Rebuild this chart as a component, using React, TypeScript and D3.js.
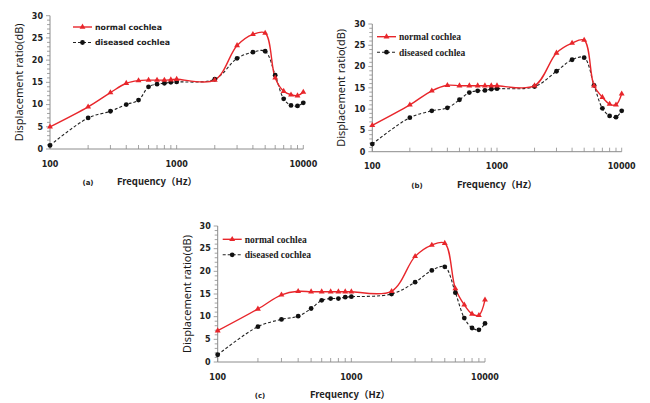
import React, { useEffect, useRef } from 'react';
import * as d3 from 'd3';

const freqs = [100, 200, 300, 400, 500, 600, 700, 800, 900, 1000, 2000, 3000, 4000, 5000, 6000, 7000, 8000, 9000, 10000];

const normalA = [5, 9.5, 12.7, 14.8, 15.4, 15.5, 15.5, 15.5, 15.6, 15.7, 15.5, 23.3, 25.8, 26.1, 16, 13, 12.2, 12, 12.8];
const diseasedA = [0.8, 7, 8.5, 10, 11, 14, 14.6, 14.8, 15, 15.1, 15.7, 20.4, 21.8, 22, 16.6, 11.3, 9.8, 9.7, 10.4];

const normalB = [6.2, 11, 14.3, 15.6, 15.5, 15.5, 15.5, 15.5, 15.5, 15.5, 15.5, 23.2, 25.5, 26.2, 15.5, 12.8, 11.2, 11, 13.6];
const diseasedB = [1.8, 8, 9.6, 10.3, 12.2, 13.9, 14.3, 14.4, 14.7, 14.8, 15.3, 18.9, 21.6, 22.1, 15.6, 10.2, 8.4, 8.1, 9.6];

const normalC = [6.9, 11.7, 14.8, 15.6, 15.5, 15.5, 15.5, 15.5, 15.5, 15.5, 15.6, 23.3, 25.8, 26.2, 16.2, 12.6, 10.6, 10.3, 13.7];
const diseasedC = [1.6, 7.8, 9.4, 10.1, 11.8, 13.6, 14, 14, 14.3, 14.4, 15, 17.6, 20.2, 21, 15.3, 9.7, 7.5, 7.1, 8.5];

const seriesNames = ['normal cochlea', 'diseased cochlea'];
const xTickLabels = [100, 1000, 10000];
const yTicks = [0, 5, 10, 15, 20, 25, 30];

const RED = '#e8262b';
const AXIS = '#8c8c8c';

type PanelProps = {
  normal: number[];
  diseased: number[];
  tag: string;
  x0: number; x1: number; yTop: number; yBot: number;
  tagX: number; freqX: number; legendX: number; legendY: number;
  legendSerif: boolean;
};

const Panel = (p: PanelProps) => {
  const ref = useRef<SVGGElement>(null);

  useEffect(() => {
    const g = d3.select(ref.current);
    g.selectAll('*').remove();

    const x = d3.scaleLog().domain([100, 10000]).range([p.x0, p.x1]);
    const y = d3.scaleLinear().domain([0, 30]).range([p.yBot, p.yTop]);

    // y axis with minor ticks
    const yAxis = g.append('g').attr('transform', `translate(${p.x0},0)`);
    yAxis.append('line').attr('x1', 0).attr('x2', 0).attr('y1', y(0)).attr('y2', y(30))
      .attr('stroke', AXIS).attr('stroke-width', 1);
    d3.range(0, 31).forEach(v => {
      yAxis.append('line').attr('x1', v % 5 === 0 ? -4 : -3).attr('x2', 0)
        .attr('y1', y(v)).attr('y2', y(v)).attr('stroke', AXIS).attr('stroke-width', 0.8);
    });
    yTicks.forEach(v => {
      yAxis.append('text').text(v).attr('x', -7).attr('y', y(v)).attr('dy', '0.35em')
        .attr('text-anchor', 'end').attr('font-family', 'DejaVu Sans').attr('font-weight', 'bold')
        .attr('font-size', 8).attr('fill', '#222');
    });

    // x axis, log scale
    const xAxis = g.append('g').attr('transform', `translate(0,${p.yBot})`);
    xAxis.append('line').attr('x1', p.x0).attr('x2', p.x1).attr('stroke', AXIS).attr('stroke-width', 1);
    const minor: number[] = [];
    [100, 1000].forEach(d => d3.range(1, 10).forEach(k => minor.push(d * k)));
    minor.push(10000);
    minor.forEach(v => {
      xAxis.append('line').attr('x1', x(v)).attr('x2', x(v)).attr('y1', 0).attr('y2', -4)
        .attr('stroke', AXIS).attr('stroke-width', 0.8);
    });
    xTickLabels.forEach(v => {
      xAxis.append('text').text(v).attr('x', x(v)).attr('y', 15).attr('dy', '0.35em')
        .attr('text-anchor', 'middle').attr('font-family', 'DejaVu Sans').attr('font-weight', 'bold')
        .attr('font-size', 8).attr('fill', '#222');
    });

    // titles
    g.append('text').text('Displacement ratio(dB)')
      .attr('transform', `translate(${p.x0 - 31},${(p.yTop + p.yBot) / 2}) rotate(-90)`)
      .attr('text-anchor', 'middle').attr('dy', '0.35em')
      .attr('font-family', 'Noto Sans').attr('font-size', 11).attr('fill', '#1a1a1a');
    g.append('text').text('Frequency（Hz）')
      .attr('x', p.freqX).attr('y', p.yBot + 33).attr('dy', '0.35em').attr('text-anchor', 'middle')
      .attr('font-family', 'Noto Sans CJK SC').attr('font-weight', 'bold').attr('font-size', 9.5).attr('fill', '#222');
    g.append('text').text(p.tag)
      .attr('x', p.tagX).attr('y', p.yBot + 34).attr('dy', '0.35em').attr('text-anchor', 'middle')
      .attr('font-family', 'DejaVu Sans').attr('font-weight', 'bold').attr('font-size', 7).attr('fill', '#222');

    // series lines
    const line = d3.line<number>()
      .x((_, i) => x(freqs[i]))
      .y(d => y(d))
      .curve(d3.curveCatmullRom.alpha(0.5));

    g.append('path').datum(p.diseased).attr('d', line).attr('fill', 'none')
      .attr('stroke', '#222').attr('stroke-width', 1.1).attr('stroke-dasharray', '3,2');
    g.append('path').datum(p.normal).attr('d', line).attr('fill', 'none')
      .attr('stroke', RED).attr('stroke-width', 1.4);

    const tri = d3.symbol().type(d3.symbolTriangle).size(15);
    g.selectAll('.dot').data(p.diseased).join('circle')
      .attr('cx', (_, i) => x(freqs[i])).attr('cy', d => y(d)).attr('r', 2.4).attr('fill', '#111');
    g.selectAll('.tri').data(p.normal).join('path')
      .attr('d', tri).attr('transform', (d, i) => `translate(${x(freqs[i])},${y(d)})`).attr('fill', RED);

    // legend
    const lg = g.append('g').attr('transform', `translate(${p.legendX},${p.legendY})`);
    seriesNames.forEach((name, i) => {
      const row = lg.append('g').attr('transform', `translate(0,${i * 15.5})`);
      row.append('line').attr('x1', 0).attr('x2', 19).attr('y1', 0).attr('y2', 0)
        .attr('stroke', i === 0 ? RED : '#222').attr('stroke-width', i === 0 ? 1.4 : 1.1)
        .attr('stroke-dasharray', i === 0 ? null : '3,2');
      if (i === 0) {
        row.append('path').attr('d', tri).attr('transform', 'translate(9.5,0)').attr('fill', RED);
      } else {
        row.append('circle').attr('cx', 9.5).attr('cy', 0).attr('r', 2.4).attr('fill', '#111');
      }
      row.append('text').text(name).attr('x', 22).attr('y', 0).attr('dy', '0.35em')
        .attr('font-family', p.legendSerif ? 'Liberation Serif' : 'DejaVu Sans')
        .attr('font-weight', 'bold').attr('font-size', p.legendSerif ? 9.5 : 7.8).attr('fill', '#222');
    });
  }, [p]);

  return <g ref={ref} />;
};

const App = () => {
  return (
    <svg width={650} height={403} style={{ position: 'absolute', left: 0, top: 0, background: '#fff' }}>
      <Panel normal={normalA} diseased={diseasedA} tag="(a)"
        x0={50} x1={303.3} yTop={15.7} yBot={149}
        tagX={88} freqX={157} legendX={73} legendY={27} legendSerif={false} />
      <Panel normal={normalB} diseased={diseasedB} tag="(b)"
        x0={372.3} x1={621.7} yTop={24} yBot={151.7}
        tagX={417} freqX={497} legendX={377} legendY={36.7} legendSerif={true} />
      <Panel normal={normalC} diseased={diseasedC} tag="(c)"
        x0={217.7} x1={485} yTop={226} yBot={362}
        tagX={260} freqX={350} legendX={222.7} legendY={239.3} legendSerif={true} />
    </svg>
  );
};

export default App;
